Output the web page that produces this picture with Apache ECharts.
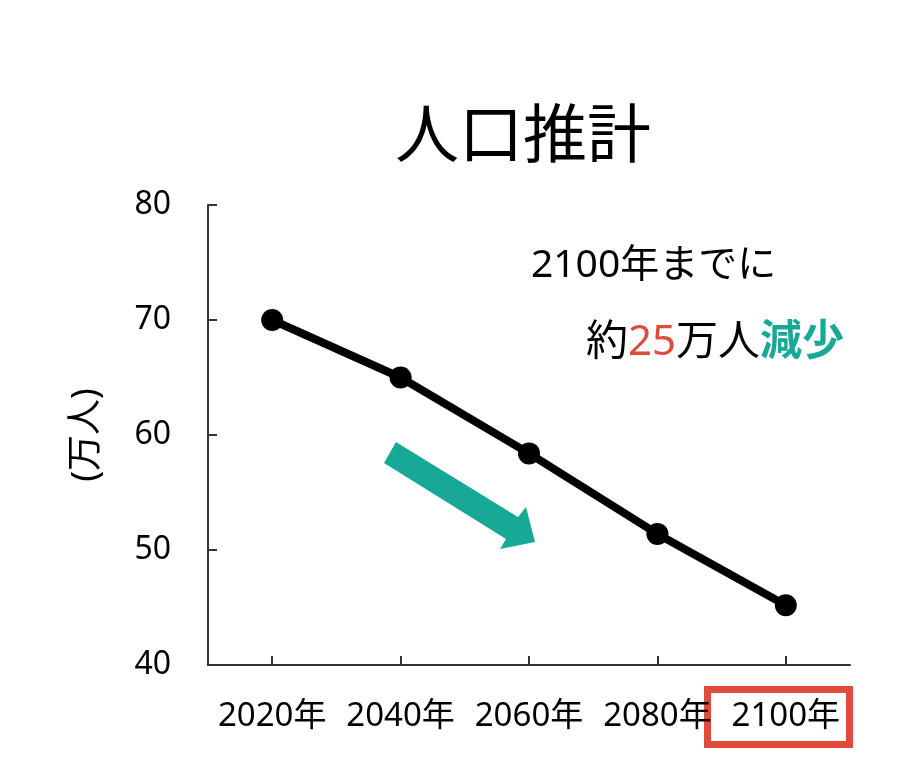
<!DOCTYPE html>
<html><head><meta charset="utf-8">
<script src="https://cdn.jsdelivr.net/npm/echarts@6/dist/echarts.min.js"></script>
<style>html,body{margin:0;padding:0;background:#fff}#c{width:915px;height:778px}</style>
</head><body><div id="c"></div>
<script>
const categories = ['2020年','2040年','2060年','2080年','2100年'];
const population = [70, 65, 58.4, 51.4, 45.2];
const yTicks = {min: 40, max: 80, interval: 10};
const titleText = '人口推計';
const yName = '(万人)';
const FONT = '"Noto Sans", "Noto Sans CJK JP", sans-serif';
const TEAL = '#17a995';
const RED = '#e04b3c';

const chart = echarts.init(document.getElementById('c'));
chart.setOption({
  animation: false,
  backgroundColor: '#fff',
  title: {
    text: titleText, left: 518, top: 102, textAlign: 'center',
    textStyle: {fontFamily: FONT, fontSize: 64, fontWeight: 'normal', color: '#000'}
  },
  grid: {left: 208, right: 65, top: 205, bottom: 113},
  xAxis: {
    type: 'category', data: categories, boundaryGap: true,
    axisLine: {lineStyle: {color: '#333', width: 2}},
    axisTick: {show: true, inside: true, alignWithLabel: true, interval: 0, length: 9, lineStyle: {color: '#333', width: 2}},
    axisLabel: {fontFamily: FONT, fontSize: 33, color: '#000', margin: 35, interval: 0}
  },
  yAxis: {
    type: 'value', min: yTicks.min, max: yTicks.max, interval: yTicks.interval,
    name: yName, nameLocation: 'middle', nameRotate: 90, nameGap: 103,
    nameTextStyle: {fontFamily: FONT, fontSize: 36, color: '#000'},
    splitLine: {show: false},
    axisLine: {show: true, lineStyle: {color: '#333', width: 2}},
    axisTick: {show: true, inside: true, length: 9, lineStyle: {color: '#333', width: 2}},
    axisLabel: {fontFamily: FONT, fontSize: 32, color: '#000', margin: 37}
  },
  series: [{
    type: 'line', data: population,
    symbol: 'circle', symbolSize: 22,
    lineStyle: {color: '#000', width: 8},
    itemStyle: {color: '#000'}
  }],
  graphic: [
    {type: 'polygon', shape: {points: [[396,442],[518,517],[526,507],[535,542],[500,549],[506,539],[384,463]]}, style: {fill: TEAL}},
    {type: 'text', left: 531, top: 246, style: {text: '2100年までに', font: '39px ' + FONT, fill: '#000'}},
    {type: 'text', left: 586, top: 322, style: {
      text: '約{r|25}万人{g|減少}', font: '42px ' + FONT, fill: '#000',
      rich: {r: {fill: RED, fontSize: 42, fontFamily: FONT}, g: {fill: TEAL, fontSize: 42, fontFamily: FONT, fontWeight: 'bold'}}
    }},
    {type: 'rect', shape: {x: 707.5, y: 689.5, width: 142, height: 55}, style: {fill: 'none', stroke: RED, lineWidth: 7}}
  ]
});
</script></body></html>
